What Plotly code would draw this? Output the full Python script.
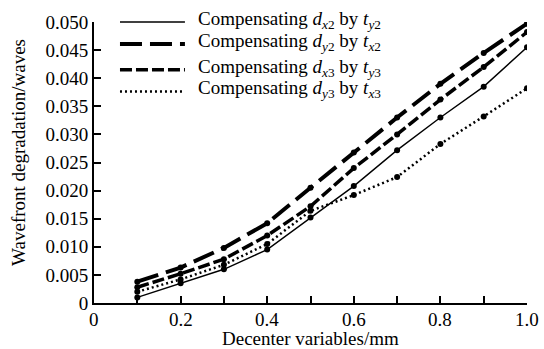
import plotly.graph_objects as go

decenter = [0.1, 0.2, 0.3, 0.4, 0.5, 0.6, 0.7, 0.8, 0.9, 1.0]
dx2_ty2 = [0.0010, 0.0035, 0.0060, 0.0095, 0.0152, 0.0208, 0.0272, 0.0330, 0.0385, 0.0455]
dy2_tx2 = [0.0038, 0.0063, 0.0098, 0.0142, 0.0205, 0.0268, 0.0330, 0.0390, 0.0445, 0.0497]
dx3_ty3 = [0.0028, 0.0052, 0.0078, 0.0120, 0.0172, 0.0240, 0.0300, 0.0362, 0.0420, 0.0482]
dy3_tx3 = [0.0020, 0.0042, 0.0068, 0.0105, 0.0164, 0.0192, 0.0224, 0.0283, 0.0332, 0.0382]

labels = [
    "Compensating <i>d</i><sub><i>x</i>2</sub> by <i>t</i><sub><i>y</i>2</sub>",
    "Compensating <i>d</i><sub><i>y</i>2</sub> by <i>t</i><sub><i>x</i>2</sub>",
    "Compensating <i>d</i><sub><i>x</i>3</sub> by <i>t</i><sub><i>y</i>3</sub>",
    "Compensating <i>d</i><sub><i>y</i>3</sub> by <i>t</i><sub><i>x</i>3</sub>",
]
series = [dx2_ty2, dy2_tx2, dx3_ty3, dy3_tx3]
styles = [
    dict(width=1.4, dash="solid"),
    dict(width=4, dash="22px,8px"),
    dict(width=3.5, dash="12px,4px"),
    dict(width=2.5, dash="2px,3px"),
]

x_ticks = [0, 0.1, 0.2, 0.3, 0.4, 0.5, 0.6, 0.7, 0.8, 0.9, 1.0]
x_label_vals = [0, 0.2, 0.4, 0.6, 0.8, 1.0]
x_label_text = ["0", "0.2", "0.4", "0.6", "0.8", "1.0"]
y_ticks = [0, 0.005, 0.010, 0.015, 0.020, 0.025, 0.030, 0.035, 0.040, 0.045, 0.050]
y_ticktext = ["0", "0.005", "0.010", "0.015", "0.020", "0.025", "0.030", "0.035", "0.040", "0.045", "0.050"]

FONT = "Liberation Serif"
fig = go.Figure()
for name, vals, st in zip(labels, series, styles):
    fig.add_trace(go.Scatter(
        x=decenter, y=vals, mode="lines+markers", name=name,
        line=dict(color="black", width=st["width"], dash=st["dash"]),
        marker=dict(color="black", size=6, symbol="circle"),
        showlegend=False,
    ))

# manual legend
leg_y = [1.0, 0.922, 0.830, 0.753]
for name, st, yy in zip(labels, styles, leg_y):
    fig.add_shape(type="line", xref="paper", yref="paper",
                  x0=0.060, x1=0.210, y0=yy, y1=yy,
                  line=dict(color="black", width=st["width"], dash=st["dash"]))
    fig.add_annotation(xref="paper", yref="paper", x=0.236, y=yy + 0.008,
                       text=name, showarrow=False, xanchor="left", yanchor="middle",
                       font=dict(family=FONT, size=19, color="black"))

# x tick labels
for v, t in zip(x_label_vals, x_label_text):
    fig.add_annotation(xref="x", yref="paper", x=v, y=0, yshift=-4,
                       text=t, showarrow=False, xanchor="center", yanchor="top",
                       font=dict(family=FONT, size=19, color="black"))

fig.add_annotation(xref="paper", yref="paper", x=-0.175, y=0.535,
                   text="Wavefront degradation/waves", textangle=-90, showarrow=False,
                   xanchor="center", yanchor="middle",
                   font=dict(family=FONT, size=19, color="black"))
fig.add_annotation(xref="paper", yref="paper", x=0.5, y=-0.125,
                   text="Decenter variables/mm", showarrow=False,
                   xanchor="center", yanchor="middle",
                   font=dict(family=FONT, size=19, color="black"))

axis_common = dict(showline=True, linecolor="black", linewidth=2, ticks="inside",
                   ticklen=7, tickwidth=2, tickcolor="black", showgrid=False,
                   zeroline=False, mirror=False,
                   tickfont=dict(family=FONT, size=19, color="black"))
fig.update_xaxes(range=[0, 1.0], tickvals=x_ticks, showticklabels=False, **axis_common)
fig.update_yaxes(range=[0, 0.050], tickvals=y_ticks, ticktext=y_ticktext, **axis_common)

fig.update_layout(
    width=544, height=349,
    margin=dict(l=94, r=17, t=20, b=46),
    plot_bgcolor="white", paper_bgcolor="white",
    font=dict(family=FONT, size=19, color="black"),
)
fig.write_html("out.html")
